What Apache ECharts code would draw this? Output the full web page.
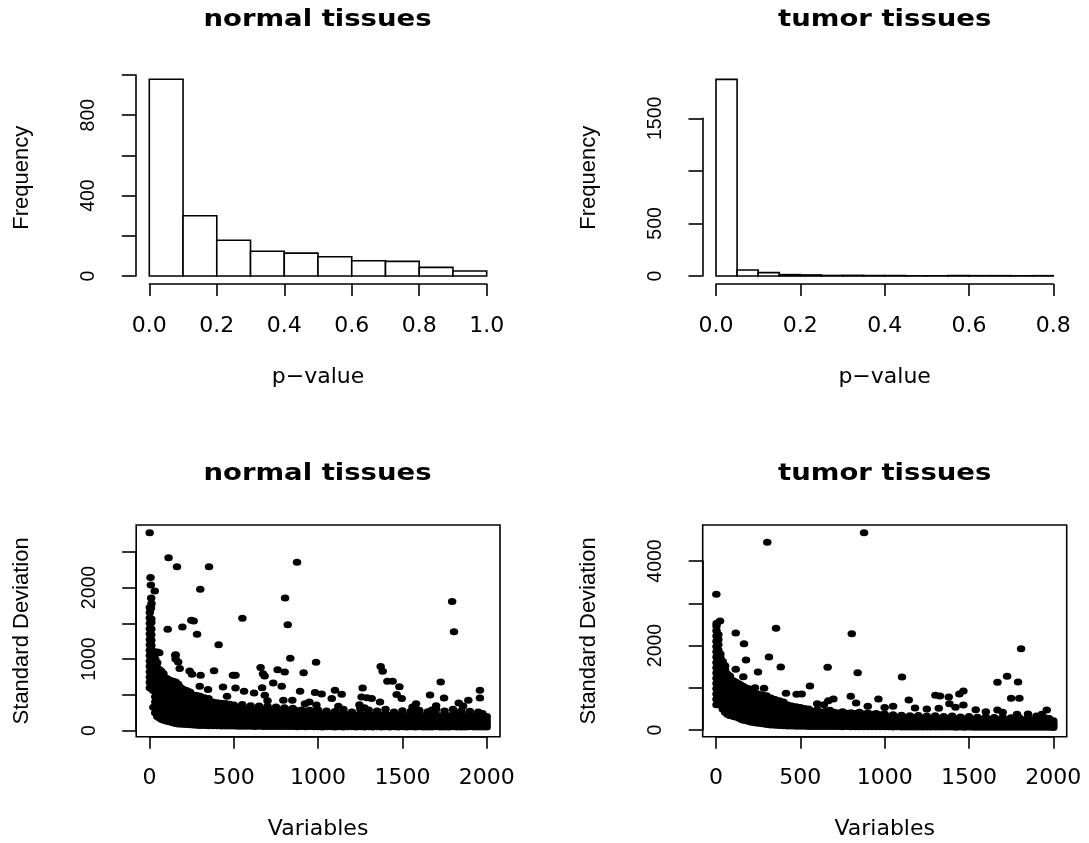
<!DOCTYPE html>
<html>
<head>
<meta charset="utf-8">
<title>p-values and standard deviations: normal vs tumor tissues</title>
<script src="https://cdn.jsdelivr.net/npm/echarts@6.0.0/dist/echarts.min.js"></script>
<style>
  html, body { margin: 0; padding: 0; background: #fff; }
  #chart { width: 1089px; height: 843px; }
</style>
</head>
<body>
<div id="chart"></div>
<script>
// ---- histogram of p-values ----
var normalBreaks = [0, 0.1, 0.2, 0.3, 0.4, 0.5, 0.6, 0.7, 0.8, 0.9, 1.0];
var normalCounts = [979, 300, 178, 123, 114, 96, 76, 73, 43, 25];
var tumorBreaks = [0, 0.05, 0.1, 0.15, 0.2, 0.25, 0.3, 0.35, 0.4, 0.45, 0.5, 0.55, 0.6, 0.65, 0.7, 0.75, 0.8];
var tumorCounts = [1870, 57, 32, 13, 10, 5, 6, 4, 4, 2, 2, 4, 3, 3, 2, 3];

// ---- standard deviation per variable ----
// dense part of the cloud, one row per variable index: [index, sd, sd, ...]
var normalBand = [
  [2, 600, 675, 750, 825, 900, 975, 1050, 1125, 1200, 1275, 1350, 1425, 1500, 1575, 1650, 1720],
  [11, 590, 665, 740, 815, 890, 965, 1040, 1115, 1190, 1265, 1340, 1420, 1510, 1560],
  [22, 560, 640, 720, 800, 880, 960, 1040, 1110],
  [34, 250, 325, 400, 475, 550, 625, 700, 775, 850, 925, 1000, 1080],
  [46, 200, 275, 350, 425, 500, 575, 650, 725, 800, 875, 950, 1100],
  [58, 180, 255, 330, 405, 480, 555, 630, 705, 780, 855, 1090],
  [70, 160, 235, 310, 385, 460, 535, 610, 685, 760, 830],
  [82, 150, 225, 300, 375, 450, 525, 600, 675, 750, 800],
  [95, 140, 215, 290, 365, 440, 515, 590, 665, 740],
  [110, 130, 205, 280, 355, 430, 505, 580, 655, 720],
  [125, 120, 195, 270, 345, 420, 495, 570, 645, 700],
  [140, 110, 185, 260, 335, 410, 485, 560, 635, 690],
  [155, 100, 175, 250, 325, 400, 475, 550, 620, 680, 1000, 1060],
  [170, 95, 170, 245, 320, 395, 470, 545, 610, 650, 960],
  [185, 92, 165, 240, 315, 390, 465, 540, 600],
  [200, 90, 160, 235, 310, 385, 460, 530, 580],
  [220, 86, 158, 230, 305, 380, 455, 520, 560],
  [240, 82, 155, 228, 300, 375, 450, 510, 540],
  [260, 79, 152, 225, 298, 370, 445, 500],
  [280, 76, 150, 222, 295, 365, 435, 490],
  [300, 74, 148, 220, 290, 360, 425, 480],
  [325, 72, 145, 215, 285, 355, 415, 460],
  [350, 70, 142, 212, 280, 350, 410, 450],
  [375, 69, 140, 210, 278, 345, 400],
  [400, 68, 138, 206, 274, 340, 390],
  [425, 67, 136, 204, 270, 335, 385],
  [450, 66, 134, 200, 266, 330, 380],
  [475, 65, 132, 198, 262, 325, 370],
  [500, 64, 130, 196, 260, 320, 360],
  [525, 62, 126, 192, 255, 312],
  [550, 63, 128, 194, 258, 320, 365],
  [575, 61, 125, 190, 252, 305],
  [600, 62, 127, 192, 256, 315, 350],
  [625, 60, 123, 188, 250, 300],
  [650, 61, 125, 190, 252, 310, 345],
  [675, 59, 122, 186, 248, 298],
  [700, 60, 124, 188, 250, 305, 340],
  [725, 58, 120, 183, 244, 292],
  [750, 59, 122, 185, 246, 300, 330],
  [775, 57, 119, 181, 240, 288],
  [800, 58, 120, 183, 244, 295, 320],
  [825, 57, 118, 180, 238, 284],
  [850, 58, 119, 182, 242, 292, 315],
  [875, 56, 117, 178, 236, 280],
  [900, 57, 118, 180, 240, 290],
  [925, 56, 116, 176, 234, 275],
  [950, 57, 117, 178, 238, 285],
  [975, 55, 115, 175, 232, 270],
  [1000, 55, 115, 175, 235, 290],
  [1025, 52, 112, 170, 228],
  [1050, 56, 118, 178, 240, 275],
  [1075, 54, 110, 168, 222],
  [1100, 53, 114, 172, 230, 268],
  [1125, 55, 116, 176, 238],
  [1150, 52, 110, 166, 220, 300],
  [1175, 54, 113, 170, 226],
  [1200, 56, 117, 178, 236, 262],
  [1225, 53, 110, 165, 218],
  [1250, 55, 114, 172, 232, 305],
  [1275, 52, 109, 166, 224, 320],
  [1300, 54, 112, 170, 228, 290],
  [1325, 53, 108, 162, 214],
  [1350, 55, 113, 168, 225, 275],
  [1375, 52, 110, 164, 220],
  [1400, 54, 112, 170, 232, 300],
  [1425, 53, 108, 160, 212],
  [1450, 55, 112, 168, 226, 262],
  [1475, 52, 109, 162, 216],
  [1500, 54, 111, 166, 224, 280],
  [1525, 53, 107, 158, 210],
  [1550, 55, 110, 164, 222, 270],
  [1575, 52, 108, 160, 214, 310],
  [1600, 54, 110, 165, 226, 285],
  [1625, 51, 106, 156, 208],
  [1650, 53, 109, 162, 220, 265],
  [1675, 52, 106, 158, 212, 290],
  [1700, 54, 110, 164, 222, 300],
  [1725, 51, 105, 155, 206],
  [1750, 53, 108, 160, 218, 275],
  [1775, 52, 106, 157, 210],
  [1800, 54, 109, 162, 220, 300],
  [1825, 51, 104, 154, 205, 250],
  [1850, 53, 107, 158, 214, 280],
  [1875, 52, 105, 156, 210],
  [1900, 54, 108, 160, 218, 270],
  [1925, 51, 103, 152, 204],
  [1950, 53, 106, 157, 212, 260],
  [1975, 52, 104, 155, 210, 240],
  [2000, 50, 102, 150, 200]
];
// isolated points above the dense part: [index, sd]
var normalSpread = [
  [1, 2766], [6, 2138], [8, 2036], [31, 1951], [10, 1854], [12, 1775], [9, 1714], [23, 327],
  [113, 2417], [163, 2291], [353, 2291], [875, 2352], [301, 1975], [804, 1854], [1795, 1804],
  [1806, 1383], [820, 1481], [551, 1570], [248, 1542], [262, 1532], [195, 1449], [108, 1416],
  [282, 1346], [410, 1202], [835, 1011], [988, 955], [914, 811], [153, 1053], [179, 867],
  [238, 834], [252, 788], [303, 774], [383, 839], [495, 774], [510, 774], [659, 881], [673, 797],
  [683, 765], [760, 853], [802, 820], [734, 667], [784, 620], [436, 611], [298, 620], [347, 574],
  [510, 597], [561, 550], [620, 527], [668, 601], [684, 494], [893, 550], [847, 425], [794, 425],
  [1371, 895], [1383, 830], [1411, 690], [1442, 690], [1482, 615], [1727, 681], [982, 532],
  [1021, 513], [1100, 564], [1140, 508], [1264, 597], [1258, 471], [1290, 460], [1318, 448],
  [1466, 504], [1496, 448], [1664, 499], [1747, 457], [1960, 564], [1960, 457], [948, 401],
  [922, 378], [1081, 448], [1245, 364], [1367, 401], [1581, 378], [1834, 387], [1860, 345],
  [1891, 425], [1560, 330], [1700, 350], [1120, 340], [990, 360], [700, 420], [460, 480]
];

var tumorBand = [
  [3, 600, 725, 850, 975, 1100, 1225, 1350, 1475, 1600, 1725, 1850, 1975, 2100, 2225, 2350, 2460],
  [14, 640, 765, 890, 1015, 1140, 1265, 1390, 1515, 1640, 1765, 1890, 2015, 2140, 2260],
  [26, 590, 715, 840, 965, 1090, 1215, 1340, 1465, 1590, 1710, 1800],
  [40, 500, 625, 750, 875, 1000, 1125, 1250, 1375, 1500, 1620],
  [54, 420, 545, 670, 795, 920, 1045, 1170, 1295, 1420, 1520],
  [68, 370, 495, 620, 745, 870, 995, 1120, 1240, 1320],
  [82, 345, 470, 595, 720, 845, 970, 1095, 1210, 1280],
  [96, 330, 455, 580, 705, 830, 955, 1075, 1180],
  [110, 315, 440, 565, 690, 815, 940, 1050, 1150],
  [125, 300, 425, 550, 675, 800, 925, 1040, 1120],
  [140, 270, 395, 520, 645, 770, 890, 1000, 1080],
  [155, 245, 370, 495, 620, 745, 865, 970, 1050],
  [170, 225, 350, 475, 600, 725, 845, 950, 1010],
  [190, 205, 330, 455, 580, 705, 820, 920, 980],
  [210, 185, 310, 435, 560, 685, 800, 890],
  [230, 170, 295, 420, 545, 665, 780, 870],
  [250, 160, 280, 400, 520, 640, 760, 850],
  [275, 145, 265, 385, 505, 620, 730, 830],
  [300, 130, 250, 370, 490, 605, 710, 810],
  [325, 120, 240, 360, 475, 585, 690, 760],
  [350, 112, 230, 345, 460, 570, 660, 720],
  [375, 105, 220, 335, 445, 550, 640, 690],
  [400, 100, 212, 325, 435, 535, 620, 660],
  [425, 96, 205, 315, 420, 515, 590],
  [450, 92, 200, 305, 410, 500, 570],
  [475, 90, 195, 300, 400, 490, 550],
  [500, 88, 190, 292, 390, 475, 530],
  [525, 86, 186, 285, 380, 465, 510],
  [550, 85, 182, 280, 372, 455, 500],
  [575, 84, 180, 275, 365, 440],
  [600, 82, 178, 272, 360, 430, 480],
  [625, 83, 176, 270, 355, 420],
  [650, 81, 175, 268, 350, 445],
  [675, 82, 172, 265, 345, 410, 470],
  [700, 80, 170, 262, 340, 420],
  [725, 81, 170, 260, 345, 400],
  [750, 79, 168, 258, 335, 430],
  [775, 80, 166, 255, 330, 395],
  [800, 78, 165, 252, 335, 410],
  [825, 79, 164, 250, 325, 390],
  [850, 77, 162, 248, 320, 420],
  [875, 78, 160, 245, 330, 380],
  [900, 76, 160, 242, 315, 400],
  [925, 77, 158, 240, 320, 370],
  [950, 75, 156, 238, 310, 390],
  [975, 76, 155, 235, 305, 360],
  [1000, 74, 154, 232, 310, 380],
  [1025, 75, 152, 230, 300],
  [1050, 73, 150, 228, 305, 360],
  [1075, 74, 150, 226, 295],
  [1100, 72, 148, 224, 300, 350],
  [1125, 73, 147, 222, 290],
  [1150, 72, 146, 220, 295, 340],
  [1175, 71, 145, 218, 285],
  [1200, 72, 144, 216, 290, 345],
  [1225, 70, 142, 214, 280],
  [1250, 71, 142, 212, 285, 330],
  [1275, 70, 140, 210, 275],
  [1300, 71, 140, 208, 280, 340],
  [1325, 69, 138, 206, 270],
  [1350, 70, 138, 205, 275, 320],
  [1375, 69, 136, 204, 265],
  [1400, 70, 136, 202, 270, 330],
  [1425, 68, 134, 200, 260],
  [1450, 69, 134, 198, 265, 310],
  [1475, 68, 132, 196, 258],
  [1500, 69, 132, 195, 262, 320],
  [1525, 67, 130, 194, 255],
  [1550, 68, 130, 192, 258, 300],
  [1575, 67, 128, 190, 250],
  [1600, 68, 128, 188, 255, 310],
  [1625, 66, 126, 186, 248],
  [1650, 67, 126, 185, 250, 295],
  [1675, 66, 125, 184, 245],
  [1700, 67, 125, 182, 248, 300],
  [1725, 65, 124, 180, 240],
  [1750, 66, 123, 178, 245, 290],
  [1775, 65, 122, 176, 238],
  [1800, 66, 122, 175, 240, 285],
  [1825, 64, 120, 174, 235],
  [1850, 65, 120, 172, 238, 280],
  [1875, 64, 118, 170, 230],
  [1900, 65, 118, 168, 232, 275],
  [1925, 63, 116, 166, 228],
  [1950, 64, 116, 165, 230, 290],
  [1975, 63, 115, 164, 225, 270],
  [2000, 62, 114, 162, 220]
];
var tumorSpread = [
  [878, 4671], [304, 4442], [2, 3211], [24, 2580], [4, 2525], [356, 2406], [117, 2296],
  [805, 2280], [166, 2044], [1809, 1925], [178, 1657], [314, 1728], [384, 1491], [662, 1483],
  [840, 1357], [249, 1373], [162, 1262], [117, 1436], [1103, 1254], [1726, 1270], [1669, 1128],
  [1791, 1136], [1750, 750], [1799, 750], [1785, 371], [557, 1041], [415, 868], [478, 845],
  [508, 852], [799, 797], [963, 734], [1143, 710], [1301, 820], [1328, 805], [1380, 781],
  [1443, 852], [1467, 923], [1384, 623], [1467, 592], [1321, 513], [1961, 473], [1932, 371],
  [1669, 473], [231, 1002], [285, 986], [696, 734], [831, 639], [666, 690], [600, 620],
  [640, 600], [900, 560], [1000, 530], [1050, 560], [1180, 520], [1250, 500], [1420, 540],
  [1540, 480], [1600, 430], [1700, 420], [1850, 380], [1900, 330]
];

var INK = '#000';
var LW = 1.6;
var FLAT = 'DejaVu Sans';        // horizontal texts
var SIDE = 'Liberation Sans';    // texts turned along the y axis

function toBins(breaks, counts) {
  return counts.map(function (c, i) { return [breaks[i], breaks[i + 1], c]; });
}
function toPoints(band, spread) {
  var pts = [];
  band.forEach(function (row) {
    for (var i = 1; i < row.length; i++) pts.push([row[0], row[i]]);
  });
  return pts.concat(spread);
}
function every(step) {
  return function (v) { return v % step === 0 ? String(v) : ''; };
}

// outer plot region (R "plt") carries the axis titles and the box
function frameX(grid, name) {
  return {
    gridIndex: grid, type: 'value', min: 0, max: 1,
    axisLine: { show: false }, axisTick: { show: false },
    axisLabel: { show: false }, splitLine: { show: false },
    name: name, nameLocation: 'middle', nameGap: 82,
    nameTextStyle: { fontFamily: FLAT, fontSize: 22, color: INK }
  };
}
function frameY(grid, name) {
  return {
    gridIndex: grid, type: 'value', min: 0, max: 1,
    axisLine: { show: false }, axisTick: { show: false },
    axisLabel: { show: false }, splitLine: { show: false },
    name: name, nameLocation: 'middle', nameGap: 103, nameRotate: 90,
    nameTextStyle: { fontFamily: SIDE, fontSize: 22, color: INK }
  };
}
// axes that span the tick range only, pushed out like R's axis()
function tickX(grid, max, step, offset, fmt) {
  return {
    gridIndex: grid, type: 'value', min: 0, max: max, interval: step, offset: offset,
    axisLine: { show: true, onZero: false, lineStyle: { color: INK, width: LW } },
    axisTick: { show: true, length: 12, lineStyle: { color: INK, width: LW } },
    axisLabel: { show: true, margin: 31, color: INK, fontFamily: FLAT, fontSize: 22, formatter: fmt },
    splitLine: { show: false }
  };
}
function tickY(grid, max, step, offset, fmt) {
  return {
    gridIndex: grid, type: 'value', min: 0, max: max, interval: step, offset: offset,
    axisLine: { show: true, onZero: false, lineStyle: { color: INK, width: LW } },
    axisTick: { show: true, length: 14, lineStyle: { color: INK, width: LW } },
    axisLabel: { show: true, rotate: 90, margin: 37, color: INK, fontFamily: SIDE, fontSize: 19.5, formatter: fmt },
    splitLine: { show: false }
  };
}
function histSeries(axis, bins) {
  return {
    type: 'custom', xAxisIndex: axis, yAxisIndex: axis, data: bins,
    encode: { x: [0, 1], y: 2 }, clip: false, silent: true,
    renderItem: function (params, api) {
      var a = api.coord([api.value(0), 0]);
      var b = api.coord([api.value(1), api.value(2)]);
      return {
        type: 'rect',
        shape: { x: a[0], y: b[1], width: b[0] - a[0], height: a[1] - b[1] },
        style: { fill: '#fff', stroke: INK, lineWidth: LW }
      };
    }
  };
}
function cloudSeries(axis, pts) {
  return {
    type: 'scatter', xAxisIndex: axis, yAxisIndex: axis, data: pts,
    symbol: 'circle', symbolSize: [8.5, 7], clip: false, silent: true,
    itemStyle: { color: INK, opacity: 1 }
  };
}
// panel headings: wide bold text, a little flattened like the reference
function heading(text, x, y) {
  return {
    type: 'text', x: x, y: y, scaleY: 0.86, silent: true,
    style: {
      text: text, fill: INK, fontFamily: FLAT, fontWeight: 'bold', fontSize: 27.5,
      align: 'center', verticalAlign: 'middle', textAlign: 'center', textVerticalAlign: 'middle'
    }
  };
}

var chart = echarts.init(document.getElementById('chart'), null, { renderer: 'canvas' });
chart.setOption({
  backgroundColor: '#fff',
  animation: false,
  graphic: [
    heading('normal tissues', 317.5, 20),
    heading('tumor tissues', 884.7, 20),
    heading('normal tissues', 317.5, 474),
    heading('tumor tissues', 884.7, 474)
  ],
  grid: [
    { left: 135.8, top: 71.4, width: 364.4, height: 212.6 },
    { left: 149.3, top: 75, width: 337.4, height: 201 },
    { left: 702.5, top: 71.4, width: 364.3, height: 212.6 },
    { left: 716, top: 118.3, width: 337.3, height: 157.7 },
    { left: 136.2, top: 525, width: 363.8, height: 211.7, show: true, borderColor: INK, borderWidth: LW, backgroundColor: 'transparent' },
    { left: 149.5, top: 551.7, width: 337.2, height: 179 },
    { left: 702.7, top: 525, width: 364, height: 211.7, show: true, borderColor: INK, borderWidth: LW, backgroundColor: 'transparent' },
    { left: 716, top: 561, width: 337.3, height: 169 }
  ],
  xAxis: [
    frameX(0, 'p\u2212value'),
    tickX(1, 1, 0.2, 8, function (v) { return v.toFixed(1); }),
    frameX(2, 'p\u2212value'),
    tickX(3, 0.8, 0.2, 8, function (v) { return v.toFixed(1); }),
    frameX(4, 'Variables'),
    tickX(5, 2000, 500, 6, function (v) { return String(v); }),
    frameX(6, 'Variables'),
    tickX(7, 2000, 500, 6.7, function (v) { return String(v); })
  ],
  yAxis: [
    frameY(0, 'Frequency'),
    tickY(1, 1000, 200, 13.5, every(400)),
    frameY(2, 'Frequency'),
    tickY(3, 1500, 500, 13.5, function (v) { return v === 1000 ? '' : String(v); }),
    frameY(4, 'Standard Deviation'),
    tickY(5, 2500, 500, 13.3, every(1000)),
    frameY(6, 'Standard Deviation'),
    tickY(7, 4000, 1000, 13.3, every(2000))
  ],
  series: [
    histSeries(1, toBins(normalBreaks, normalCounts)),
    histSeries(3, toBins(tumorBreaks, tumorCounts)),
    cloudSeries(5, toPoints(normalBand, normalSpread)),
    cloudSeries(7, toPoints(tumorBand, tumorSpread))
  ]
});
</script>
</body>
</html>
